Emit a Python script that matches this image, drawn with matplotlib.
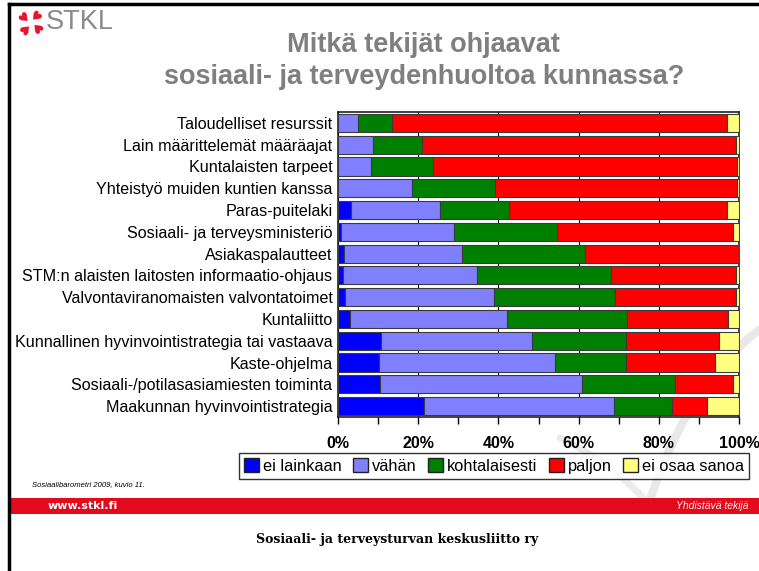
import matplotlib
matplotlib.use("Agg")
import matplotlib.pyplot as plt
import numpy as np
from matplotlib.patches import Rectangle
from matplotlib.lines import Line2D

plt.rcParams['font.family'] = ['Liberation Sans', 'DejaVu Sans']

categories = [
    "Taloudelliset resurssit",
    "Lain määrittelemät määräajat",
    "Kuntalaisten tarpeet",
    "Yhteistyö muiden kuntien kanssa",
    "Paras-puitelaki",
    "Sosiaali- ja terveysministeriö",
    "Asiakaspalautteet",
    "STM:n alaisten laitosten informaatio-ohjaus",
    "Valvontaviranomaisten valvontatoimet",
    "Kuntaliitto",
    "Kunnallinen hyvinvointistrategia tai vastaava",
    "Kaste-ohjelma",
    "Sosiaali-/potilasasiamiesten toiminta",
    "Maakunnan hyvinvointistrategia",
]
series_names = ["ei lainkaan", "vähän", "kohtalaisesti", "paljon", "ei osaa sanoa"]
ei_lainkaan   = [0.0, 0.0, 0.0, 0.0, 3.2, 0.7, 1.5, 1.2, 1.7, 3.0, 10.7, 10.2, 10.5, 21.4]
vahan         = [4.9, 8.7, 8.3, 18.5, 22.2, 28.3, 29.5, 33.5, 37.3, 39.1, 37.8, 43.9, 50.3, 47.4]
kohtalaisesti = [8.6, 12.2, 15.4, 20.7, 17.2, 25.6, 30.6, 33.4, 30.2, 30.0, 23.3, 17.6, 23.2, 14.6]
paljon        = [83.6, 78.4, 75.8, 60.3, 54.4, 43.8, 38.3, 31.2, 30.1, 25.1, 23.2, 22.3, 14.6, 8.5]
ei_osaa       = [2.9, 0.7, 0.5, 0.5, 3.0, 1.6, 0.1, 0.7, 0.7, 2.8, 5.0, 6.0, 1.4, 8.1]
xticks = [0, 20, 40, 60, 80, 100]
xticklabels = ["0%", "20%", "40%", "60%", "80%", "100%"]

colors = ["#0000FF", "#8080FF", "#008000", "#FF0000", "#FFFF80"]
data = [ei_lainkaan, vahan, kohtalaisesti, paljon, ei_osaa]

W, H = 759, 571
fig = plt.figure(figsize=(W / 100, H / 100), dpi=100)

# decorative watermark swooshes
wm = fig.add_axes([0, 0, 1, 1], zorder=0)
wm.set_xlim(0, W); wm.set_ylim(H, 0); wm.axis('off')
t = np.linspace(0, 1, 60)
def quad(p0, p1, p2):
    p0, p1, p2 = map(np.array, (p0, p1, p2))
    pts = (1 - t)[:, None] ** 2 * p0 + 2 * ((1 - t) * t)[:, None] * p1 + (t ** 2)[:, None] * p2
    return pts[:, 0], pts[:, 1]
xa, ya = quad((762, 328), (690, 380), (650, 500))
wm.plot(xa, ya, color='#e8e8e8', lw=6, solid_capstyle='round')
xb, yb = quad((560, 438), (610, 462), (645, 500))
wm.plot(xb, yb, color='#ebebeb', lw=5, solid_capstyle='round')

ax = fig.add_axes([338 / W, 1 - 417 / H, (739 - 338) / W, (417 - 112) / H], zorder=2)
y = np.arange(len(categories))
left = np.zeros(len(categories))
for vals, col, name in zip(data, colors, series_names):
    vals = np.array(vals)
    ax.barh(y, vals, left=left, height=0.83, color=col, edgecolor='#3a3a3a',
            linewidth=0.8, label=name, zorder=3)
    left += vals

ax.set_xlim(0, 100)
ax.set_ylim(len(categories) - 0.5, -0.5)
ax.set_yticks(y)
ax.set_yticklabels(categories, fontsize=11.6)
ax.tick_params(axis='y', length=0, pad=4)
ax.set_xticks(xticks)
ax.set_xticklabels(xticklabels, fontsize=11.5, fontweight='bold')
ax.set_xticks(np.arange(10, 100, 20), minor=True)
ax.tick_params(axis='x', which='both', direction='out', length=5, width=1, pad=9)
ax.xaxis.grid(True, color='black', linewidth=0.8, zorder=0)
ax.set_axisbelow(True)
for s in ax.spines.values():
    s.set_color('#222222')
    s.set_linewidth(1.2)

handles = [Rectangle((0, 0), 1, 1, facecolor=c, edgecolor='#222222', lw=1) for c in colors]
leg = fig.legend(handles, series_names, loc='center', bbox_to_anchor=(494 / W, 1 - 466 / H),
                 ncol=5, fontsize=11.8, frameon=True, fancybox=False, edgecolor='black',
                 handlelength=0.9, handleheight=0.9, handletextpad=0.25, columnspacing=0.7,
                 borderpad=0.3, borderaxespad=0)
leg.get_frame().set_linewidth(1)

# overlay for frame, header and footer
ov = fig.add_axes([0, 0, 1, 1], zorder=5)
ov.set_xlim(0, W); ov.set_ylim(H, 0); ov.axis('off')
ov.patch.set_alpha(0)
ov.add_line(Line2D([8.5, W], [3.5, 3.5], color='black', lw=2.5))
ov.add_line(Line2D([8.5, 8.5], [3.5, H], color='black', lw=2.5))

# logo: four hearts
cx, cy, d = 30, 22, 4.4
for dx, dy, rot in [(-1, -1, 45), (1, -1, -45), (-1, 1, 135), (1, 1, -135)]:
    ov.text(cx + dx * d, cy + dy * d, "♥", color='#e8102a', fontsize=9, ha='center',
            va='center', rotation=rot, rotation_mode='anchor', family='DejaVu Sans')
ov.text(46, 22, "STKL", color='#8a8a8a', fontsize=19.5, ha='left', va='center')

ov.text(423, 45, "Mitkä tekijät ohjaavat", color='#7f7f7f', fontsize=19.5,
        fontweight='bold', ha='center', va='center')
ov.text(424, 77, "sosiaali- ja terveydenhuoltoa kunnassa?", color='#7f7f7f', fontsize=19.5,
        fontweight='bold', ha='center', va='center')

ov.text(32, 485, "Sosiaalibarometri 2009, kuvio 11.", fontsize=5.5, style='italic',
        ha='left', va='center')

ov.add_patch(Rectangle((10, 498), W - 10, 16, facecolor='#e20a1b', edgecolor='none'))
ov.text(48, 506, "www.stkl.fi", color='white', fontsize=8, fontweight='bold',
        ha='left', va='center', family='DejaVu Sans')
ov.text(748, 506, "Yhdistävä tekijä", color='#f3f3f3', fontsize=7.5, style='italic',
        ha='right', va='center')
ov.text(397, 540, "Sosiaali- ja terveysturvan keskusliitto ry", color='black', fontsize=9,
        fontweight='bold', ha='center', va='center', family='DejaVu Serif')

fig.savefig("out.png", dpi=100)
